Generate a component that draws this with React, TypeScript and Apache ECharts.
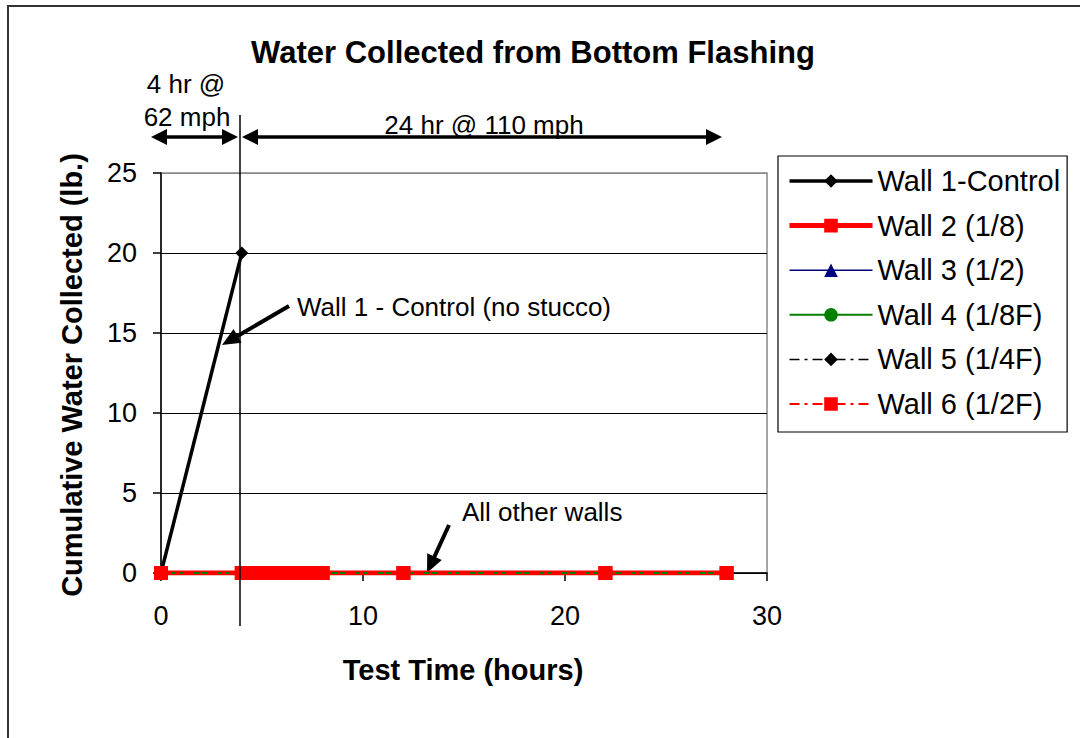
import React, { useEffect, useRef } from "react";
import * as echarts from "echarts";

// ---- Data ----
const wall1Time = [0, 4];
const wall1Water = [0, 20];
const otherTime = [0, 4, 4.5, 5, 5.5, 6, 6.5, 7, 7.5, 8, 12, 22, 28];
const wall2Water = [0, 0, 0, 0, 0, 0, 0, 0, 0, 0, 0, 0, 0];
const wall3Water = [0, 0, 0, 0, 0, 0, 0, 0, 0, 0, 0, 0, 0];
const wall4Water = [0, 0, 0, 0, 0, 0, 0, 0, 0, 0, 0, 0, 0];
const wall5Water = [0, 0, 0, 0, 0, 0, 0, 0, 0, 0, 0, 0, 0];
const wall6Water = [0, 0, 0, 0, 0, 0, 0, 0, 0, 0, 0, 0, 0];
const seriesNames = [
  "Wall 1-Control",
  "Wall 2 (1/8)",
  "Wall 3 (1/2)",
  "Wall 4 (1/8F)",
  "Wall 5 (1/4F)",
  "Wall 6 (1/2F)",
];
const xTicks = { min: 0, max: 30, interval: 10 };
const yTicks = { min: 0, max: 25, interval: 5 };

const FONT = "'Liberation Sans', Arial, sans-serif";

const pairs = (xs: number[], ys: number[]) => xs.map((x, i) => [x, ys[i]]);

const lineStyles: any[] = [
  { color: "#000", width: 3.5, type: "solid" },
  { color: "#ff0000", width: 5, type: "solid" },
  { color: "#000080", width: 1.5, type: "solid" },
  { color: "#008000", width: 2, type: "solid" },
  { color: "#000", width: 1.5, type: [10, 5, 3, 5] },
  { color: "#ff0000", width: 2, type: [10, 5, 3, 5] },
];
const symbols = ["diamond", "rect", "triangle", "circle", "diamond", "rect"];
const symbolSizes = [13, 14, 12, 12, 11, 14];

function arrow(x1: number, y1: number, x2: number, y2: number, w: number, len: number, half: number, both = false) {
  const els: any[] = [];
  const dx = x2 - x1, dy = y2 - y1;
  const L = Math.sqrt(dx * dx + dy * dy);
  const ux = dx / L, uy = dy / L;
  const px = -uy, py = ux;
  const head = (tx: number, ty: number, dirx: number, diry: number) => {
    const bx = tx - dirx * len, by = ty - diry * len;
    return {
      type: "polygon",
      shape: { points: [[tx, ty], [bx + px * half, by + py * half], [bx - px * half, by - py * half]] },
      style: { fill: "#000" },
    };
  };
  const sx = both ? x1 + ux * (len - 2) : x1;
  const sy = both ? y1 + uy * (len - 2) : y1;
  els.push({
    type: "line",
    shape: { x1: sx, y1: sy, x2: x2 - ux * (len - 2), y2: y2 - uy * (len - 2) },
    style: { stroke: "#000", lineWidth: w },
  });
  els.push(head(x2, y2, ux, uy));
  if (both) els.push(head(x1, y1, -ux, -uy));
  return els;
}

export default function App() {
  const ref = useRef<HTMLDivElement>(null);
  useEffect(() => {
    if (!ref.current) return;
    const chart = echarts.init(ref.current, null, { renderer: "svg" });
    const textStyle = { fontFamily: FONT, fontSize: 26, fill: "#000" };
    const dataSets = [
      pairs(wall1Time, wall1Water),
      pairs(otherTime, wall2Water),
      pairs(otherTime, wall3Water),
      pairs(otherTime, wall4Water),
      pairs(otherTime, wall5Water),
      pairs(otherTime, wall6Water),
    ];
    const option: any = {
      animation: false,
      backgroundColor: "#fff",
      textStyle: { fontFamily: FONT },
      grid: {
        left: 161,
        right: 313,
        top: 173,
        bottom: 165,
        show: true,
        borderColor: "#888",
        borderWidth: 1.5,
        backgroundColor: "transparent",
      },
      xAxis: {
        type: "value",
        min: xTicks.min,
        max: xTicks.max,
        interval: xTicks.interval,
        axisLine: { show: true, onZero: false, lineStyle: { color: "#000", width: 1.5 } },
        axisTick: { show: true, length: 8, lineStyle: { color: "#000", width: 1.5 } },
        axisLabel: { color: "#000", fontSize: 27, fontFamily: FONT, margin: 29 },
        splitLine: { show: false },
      },
      yAxis: {
        type: "value",
        min: yTicks.min,
        max: yTicks.max,
        interval: yTicks.interval,
        axisLine: { show: true, lineStyle: { color: "#000", width: 1.5 } },
        axisTick: { show: true, length: 8, lineStyle: { color: "#000", width: 1.5 } },
        axisLabel: { color: "#000", fontSize: 27, fontFamily: FONT, margin: 24 },
        splitLine: {
          show: true,
          lineStyle: { color: ["#000", "#000", "#000", "#000", "#000", "#888"], width: 1.2 },
        },
      },
      legend: {
        orient: "vertical",
        left: 778,
        top: 156,
        data: seriesNames.map((n, i) => ({
          name: n,
          lineStyle: { ...lineStyles[i] },
        })),
        itemWidth: 83,
        itemHeight: 17,
        itemGap: 14.6,
        padding: [10, 7, 13, 9],
        borderColor: "#000",
        borderWidth: 1.2,
        backgroundColor: "#fff",
        textStyle: { fontFamily: FONT, fontSize: 29, color: "#000", lineHeight: 30 },
        selectedMode: false,
      },
      series: seriesNames.map((n, i) => ({
        name: n,
        type: "line",
        data: dataSets[i],
        symbol: symbols[i],
        symbolSize: symbolSizes[i],
        lineStyle: { ...lineStyles[i] },
        itemStyle: { color: lineStyles[i].color },
      })),
      graphic: [
        {
          type: "rect",
          shape: { x: 8, y: 6, width: 1100, height: 760 },
          style: { fill: "none", stroke: "#333", lineWidth: 2 },
          silent: true,
        },
        {
          type: "text",
          x: 533,
          y: 52,
          style: {
            text: "Water Collected from Bottom Flashing",
            fontFamily: FONT,
            fontSize: 31,
            fontWeight: "bold",
            fill: "#000",
            align: "center",
            verticalAlign: "middle",
          },
        },
        {
          type: "text",
          x: 72,
          y: 375,
          rotation: Math.PI / 2,
          style: {
            text: "Cumulative Water Collected (lb.)",
            fontFamily: FONT,
            fontSize: 29,
            fontWeight: "bold",
            fill: "#000",
            align: "center",
            verticalAlign: "middle",
          },
        },
        {
          type: "text",
          x: 463,
          y: 670,
          style: {
            text: "Test Time (hours)",
            fontFamily: FONT,
            fontSize: 29,
            fontWeight: "bold",
            fill: "#000",
            align: "center",
            verticalAlign: "middle",
          },
        },
        {
          type: "line",
          shape: { x1: 240, y1: 115, x2: 240, y2: 626 },
          style: { stroke: "#000", lineWidth: 1.5 },
          z: 10,
        },
        { type: "text", x: 186, y: 84, style: { ...textStyle, text: "4 hr @", align: "center", verticalAlign: "middle" } },
        { type: "text", x: 187, y: 117, style: { ...textStyle, text: "62 mph", align: "center", verticalAlign: "middle" } },
        { type: "text", x: 484, y: 125, style: { ...textStyle, text: "24 hr @ 110 mph", align: "center", verticalAlign: "middle" } },
        ...arrow(151, 137, 238, 137, 3.5, 16, 8, true),
        ...arrow(242, 137, 722, 137, 3.5, 16, 8, true),
        { type: "text", x: 297, y: 307, style: { ...textStyle, text: "Wall 1 - Control (no stucco)", align: "left", verticalAlign: "middle" } },
        ...arrow(289, 306, 222, 345, 4, 18, 8),
        { type: "text", x: 462, y: 512, style: { ...textStyle, text: "All other walls", align: "left", verticalAlign: "middle" } },
        ...arrow(449, 525, 427, 573, 4, 18, 8),
      ],
    };
    chart.setOption(option);
    return () => chart.dispose();
  }, []);
  return (
    <div
      ref={ref}
      style={{ position: "absolute", left: 0, top: 0, width: 1080, height: 738, background: "#fff" }}
    />
  );
}
